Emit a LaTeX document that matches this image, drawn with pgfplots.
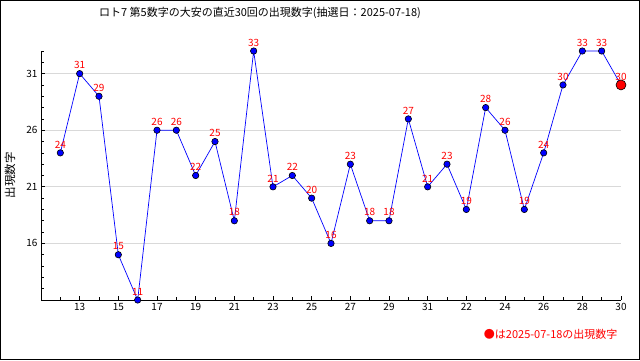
\documentclass[border=0pt]{standalone}
\usepackage{pgfplots}
\pgfplotsset{compat=1.18}
\usepackage{fontspec}
\setmainfont{Noto Sans CJK JP}
\definecolor{ptblue}{RGB}{0,0,255}
\definecolor{lblred}{RGB}{255,0,0}
\begin{document}
\begin{tikzpicture}
\useasboundingbox (0,0) rectangle (640pt,360pt);
\draw[black,line width=1pt] (0.5pt,0.5pt) rectangle (639.5pt,359.5pt);
\begin{axis}[
  at={(41pt,60pt)}, anchor=south west,
  scale only axis, width=580pt, height=249pt,
  xmin=-1, xmax=29, ymin=11, ymax=33,
  axis x line*=bottom, axis y line*=left,
  axis line style={-,black,line width=0.8pt},
  xtick={1,3,...,29},
  xticklabels={13,15,17,19,21,23,25,27,29,31,22,24,26,28,30},
  minor xtick={0,2,...,28},
  ytick={16,21,26,31},
  minor ytick={12,...,33},
  tick align=inside,
  major tick length=4pt, minor tick length=3pt,
  tick style={black,line width=0.7pt},
  ymajorgrids, major grid style={gray!30,line width=0.8pt},
  tick label style={font=\fontsize{10}{10}\selectfont},
  /pgf/number format/assume math mode=true,
  clip=false,
]
\addplot[color=ptblue, line width=0.7pt, mark=*, mark size=3.2pt,
  mark options={fill=ptblue, draw=black, line width=0.6pt},
  nodes near coords,
  every node near coord/.append style={font=\fontsize{10}{10}\selectfont, text=lblred, inner sep=1.5pt, yshift=3pt}]
coordinates {
(0,24)(1,31)(2,29)(3,15)(4,11)(5,26)(6,26)(7,22)(8,25)(9,18)
(10,33)(11,21)(12,22)(13,20)(14,16)(15,23)(16,18)(17,18)(18,27)(19,21)
(20,23)(21,19)(22,28)(23,26)(24,19)(25,24)(26,30)(27,33)(28,33)(29,30)
};
\addplot[only marks, mark=*, mark size=5pt,
  mark options={fill=lblred, draw=black, line width=0.6pt}]
coordinates {(29,30)};
\end{axis}
\node[font=\fontsize{11}{11}\selectfont] at (260pt,347pt) {ロト7 第5数字の大安の直近30回の出現数字(抽選日：2025-07-18)};
\node[font=\fontsize{11.5}{11.5}\selectfont, rotate=90] at (10pt,185pt) {出現数字};
\node[anchor=east, text=lblred, font=\fontsize{11}{11}\selectfont] at (621pt,26pt) {●は2025-07-18の出現数字};
\end{tikzpicture}
\end{document}
